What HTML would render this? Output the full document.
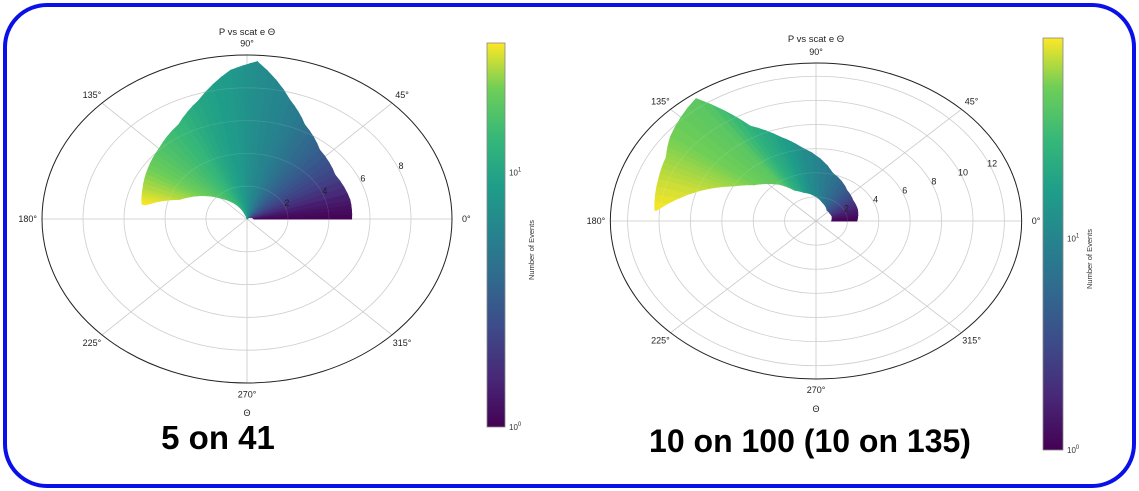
<!DOCTYPE html>
<html><head><meta charset="utf-8"><style>
body{margin:0;background:#fff;}
svg{display:block;font-family:"Liberation Sans",sans-serif;}
</style></head><body>
<svg id="s" width="1139" height="491" viewBox="0 0 1139 491" xmlns="http://www.w3.org/2000/svg">
<rect x="5" y="5" width="1129" height="481" rx="42" fill="#fff" stroke="#0a10e8" stroke-width="4"/>
<defs>
<linearGradient id="vir" x1="0" y1="1" x2="0" y2="0">
<stop offset="0" stop-color="#440154"/><stop offset="0.13" stop-color="#482878"/><stop offset="0.25" stop-color="#3e4989"/><stop offset="0.38" stop-color="#31688e"/><stop offset="0.5" stop-color="#26828e"/><stop offset="0.63" stop-color="#1f9e89"/><stop offset="0.75" stop-color="#35b779"/><stop offset="0.88" stop-color="#6ece58"/><stop offset="1" stop-color="#fde725"/>
</linearGradient>
</defs>
<g id="left"></g>
<g id="right"></g>
<text x="218" y="449" font-size="33" font-weight="bold" text-anchor="middle" fill="#000">5 on 41</text>
<text x="810" y="452" font-size="32" font-weight="bold" text-anchor="middle" fill="#000">10 on 100 (10 on 135)</text>
</svg>
<script>
// Left chart data
const leftAngles = [0, 13, 32, 50, 64, 74, 87, 95, 108, 120, 135, 148, 160, 165, 170];
const leftOuter  = [5.1, 5.15, 5.06, 5.5, 6.4, 7.55, 9.6, 9.1, 7.6, 6.65, 6.06, 5.7, 5.4, 5.3, 5.2];
const leftInner  = [0.35, 0.3, 0.2, 0.1, 0, 0, 0, 0, 0.3, 1.0, 1.8, 2.7, 3.5, 4.3, 5.0];
const leftCounts = [1, 1.3, 2.2, 3.2, 4.4, 5.5, 6.8, 8, 10, 13.5, 17, 21, 26, 29, 32];
const leftRTicks = [2, 4, 6, 8];
// Right chart data
const rightAngles = [0, 20, 36, 52, 75, 99, 108, 118, 127, 143, 151, 161, 175];
const rightOuter  = [2.6, 2.8, 2.9, 3.2, 4.1, 6.2, 7.3, 8.9, 12.7, 11.6, 10.9, 10.6, 10.3];
const rightInner  = [1.0, 1.1, 1.1, 1.15, 1.6, 2.3, 2.5, 2.9, 3.8, 5.0, 6.0, 7.8, 10.2];
const rightCounts = [1, 1.5, 2.5, 4, 7, 12, 17, 25, 42, 52, 60, 72, 88];
const rightRTicks = [2, 4, 6, 8, 10, 12];
const angleTicks = [0, 45, 90, 135, 180, 225, 270, 315];

const NS = "http://www.w3.org/2000/svg";
const vstops = ["#440154","#482878","#3e4989","#31688e","#26828e","#1f9e89","#35b779","#6ece58","#fde725"];
function hex(c){return [1,3,5].map(i=>parseInt(c.substr(i,2),16));}
function viridis(t){t=Math.max(0,Math.min(1,t));const p=t*(vstops.length-1);const i=Math.min(Math.floor(p),vstops.length-2);const f=p-i;const a=hex(vstops[i]),b=hex(vstops[i+1]);return "rgb("+a.map((v,k)=>Math.round(v+(b[k]-v)*f)).join(",")+")";}
function el(tag,attrs,parent){const e=document.createElementNS(NS,tag);for(const k in attrs)e.setAttribute(k,attrs[k]);parent.appendChild(e);return e;}

function drawPolar(g,cfg,angles,outer,inner,counts,rticks){
  const P=(r,a)=>[cfg.cx+r*cfg.sx*Math.cos(a*Math.PI/180), cfg.cy-r*cfg.sy*Math.sin(a*Math.PI/180)];
  rticks.forEach(r=>{
    const c=el("ellipse",{cx:cfg.cx,cy:cfg.cy,rx:r*cfg.sx,ry:r*cfg.sy,fill:"none",stroke:"#c8c8c8","stroke-width":0.8},g);
    
    
  });
  angleTicks.forEach(a=>{
    const [x,y]=P(cfg.rmax,a);
    const l=el("line",{x1:cfg.cx,y1:cfg.cy,x2:x,y2:y,stroke:"#c8c8c8","stroke-width":0.8},g);
    
    
  });
  for(let i=0;i<angles.length-1;i++){
    const steps=4;
    for(let s=0;s<steps;s++){
      const f0=s/steps,f1=(s+1)/steps;
      const a0=angles[i]+(angles[i+1]-angles[i])*f0,a1=angles[i]+(angles[i+1]-angles[i])*f1;
      const ro0=outer[i]+(outer[i+1]-outer[i])*f0,ro1=outer[i]+(outer[i+1]-outer[i])*f1;
      const ri0=inner[i]+(inner[i+1]-inner[i])*f0,ri1=inner[i]+(inner[i+1]-inner[i])*f1;
      const lc=Math.log10(counts[i])+(Math.log10(counts[i+1])-Math.log10(counts[i]))*(f0+f1)/2;
      const col=viridis(lc/cfg.logMax);
      const pts=[P(ri0,a0),P(ro0,a0),P(ro1,a1),P(ri1,a1)].map(p=>p.join(",")).join(" ");
      const pg=el("polygon",{points:pts,fill:col,stroke:col,"stroke-width":1},g);
      
      
    }
  }
  rticks.forEach(r=>{
    const c=el("ellipse",{cx:cfg.cx,cy:cfg.cy,rx:r*cfg.sx,ry:r*cfg.sy,fill:"none",stroke:"#ffffff","stroke-opacity":0.12,"stroke-width":0.8},g);
    
    
  });
  const o=el("ellipse",{cx:cfg.cx,cy:cfg.cy,rx:cfg.rmax*cfg.sx,ry:cfg.rmax*cfg.sy,fill:"none",stroke:"#222","stroke-width":1},g);
  
  
  angleTicks.forEach(a=>{
    const [x,y]=P(cfg.rmax*1.07,a);
    const t=el("text",{x:x,y:y+3,"font-size":9,"text-anchor":"middle",fill:"#222"},g);
    t.textContent=a+"°";
    
    
  });
  rticks.forEach(r=>{
    const [x,y]=P(r+0.1,cfg.rlabAngle);
    const t=el("text",{x:x,y:y,"font-size":9,"text-anchor":"middle",fill:"#222"},g);
    t.textContent=r;
    
    
  });
  const ti=el("text",{x:cfg.cx,y:cfg.titleY,"font-size":9.5,"text-anchor":"middle",fill:"#222"},g);
  ti.textContent="P vs scat e Θ";
  
  
  const xl=el("text",{x:cfg.cx,y:cfg.cy+cfg.rmax*cfg.sy+33,"font-size":9,"text-anchor":"middle",fill:"#222"},g);
  xl.textContent="Θ";
  
  
  const cb=el("rect",{x:cfg.cbx,y:cfg.cbTop,width:cfg.cbw,height:cfg.cbBot-cfg.cbTop,fill:"url(#vir)",stroke:"#888","stroke-width":0.8},g);
  
  
  [0,1].forEach(d=>{
    const y=cfg.cbBot-(cfg.cbBot-cfg.cbTop)*d/cfg.logMax;
    const t=el("text",{x:cfg.cbx+cfg.cbw+4,y:y+3,"font-size":8,fill:"#333"},g);
    t.textContent="10"; const sp=el("tspan",{dy:-4,"font-size":6},t); sp.textContent=d;
    
    
  });
  const cl=el("text",{x:0,y:0,"font-size":7.5,"text-anchor":"middle",fill:"#333",transform:`translate(${cfg.cbx+cfg.cbw+29},${(cfg.cbTop+cfg.cbBot)/2+15}) rotate(-90)`},g);
  cl.textContent="Number of Events";
  
  
}
drawPolar(document.getElementById("left"),
  {cx:247,cy:219,sx:20.5,sy:16.4,rmax:10,rlabAngle:22,titleY:35,cbx:487,cbw:18,cbTop:43,cbBot:427,logMax:1.51},
  leftAngles,leftOuter,leftInner,leftCounts,leftRTicks);
drawPolar(document.getElementById("right"),
  {cx:816,cy:221,sx:15.7,sy:12.06,rmax:13.1,rlabAngle:22,titleY:42,cbx:1043,cbw:20,cbTop:38,cbBot:450,logMax:1.95},
  rightAngles,rightOuter,rightInner,rightCounts,rightRTicks);
</script>
</body></html>
